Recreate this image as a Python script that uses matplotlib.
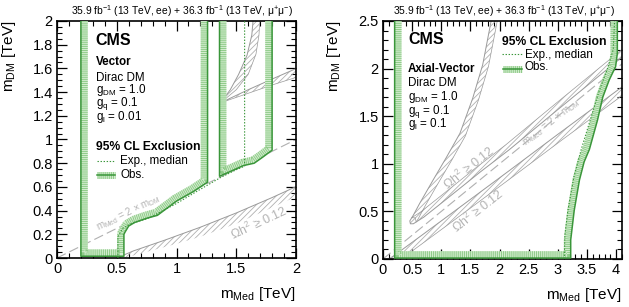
import numpy as np
import matplotlib
matplotlib.use("Agg")
import matplotlib.pyplot as plt
from matplotlib.ticker import MultipleLocator
from matplotlib.patches import Polygon

plt.rcParams['font.family'] = ['Liberation Sans', 'DejaVu Sans']
plt.rcParams['mathtext.fontset'] = 'custom'
plt.rcParams['mathtext.rm'] = 'Liberation Sans'
plt.rcParams['mathtext.it'] = 'Liberation Sans:italic'
plt.rcParams['mathtext.bf'] = 'Liberation Sans:bold'
plt.rcParams['hatch.linewidth'] = 0.6
plt.rcParams['lines.scale_dashes'] = False

# ---------------- data: Vector (left) ----------------
vec_obs1_x = [0.20, 0.20, 0.56, 0.56, 0.57, 0.60, 0.65, 0.75, 0.84, 0.92, 1.00, 1.14, 1.26, 1.26]
vec_obs1_y = [2.10, 0.015, 0.015, 0.20, 0.22, 0.27, 0.30, 0.335, 0.36, 0.42, 0.48, 0.56, 0.64, 2.10]
vec_obs2_x = [1.36, 1.36, 1.45, 1.56, 1.65, 1.72, 1.80, 1.80]
vec_obs2_y = [2.10, 0.69, 0.73, 0.78, 0.80, 0.85, 0.91, 2.10]
vec_exp_x = [0.51, 0.51, 0.55, 0.62, 0.75, 0.85, 1.00, 1.20, 1.37, 1.50, 1.57, 1.57]
vec_exp_y = [0.00, 0.18, 0.25, 0.29, 0.33, 0.38, 0.46, 0.58, 0.68, 0.745, 0.775, 2.10]
vec_relic_line_x = [0.50, 0.64, 0.90, 1.20, 1.50, 1.80, 2.05]
vec_relic_line_y = [0.00, 0.06, 0.15, 0.26, 0.38, 0.51, 0.625]
vec_relic_in_x = [0.56, 1.00, 1.20, 1.50, 2.05]
vec_relic_in_y = [0.00, 0.12, 0.18, 0.29, 0.54]
vec_vup_line_x = [1.37, 1.45, 1.52, 1.59, 1.63, 1.645]
vec_vup_line_y = [1.31, 1.42, 1.55, 1.71, 1.88, 2.05]
vec_vup_in_x = [1.37, 1.50, 1.60, 1.665, 1.69, 1.70]
vec_vup_in_y = [1.31, 1.42, 1.55, 1.72, 1.88, 2.05]
vec_vlo_line_x = [1.37, 1.60, 1.80, 2.05]
vec_vlo_line_y = [1.31, 1.42, 1.51, 1.62]
vec_vlo_in_x = [1.37, 1.60, 1.80, 2.05]
vec_vlo_in_y = [1.31, 1.39, 1.46, 1.54]

# ---------------- data: Axial-vector (right) ----------------
ax_obs_x = [0.20, 0.20, 3.22, 3.22, 3.28, 3.37, 3.45, 3.54, 3.68, 3.77, 3.88, 3.99, 4.02, 4.02]
ax_obs_y = [2.60, 0.01, 0.01, 0.20, 0.51, 0.83, 1.02, 1.15, 1.46, 1.70, 1.88, 2.02, 2.16, 2.60]
ax_exp_x = [3.11, 3.12, 3.17, 3.27, 3.40, 3.55, 3.70, 3.85, 3.95, 3.98]
ax_exp_y = [0.00, 0.25, 0.50, 0.85, 1.15, 1.45, 1.75, 2.00, 2.20, 2.60]
ax_tongue_x = [1.87, 1.83, 1.71, 1.54, 1.32, 1.09, 0.86, 0.63, 0.52, 0.46, 0.47, 0.52, 0.70, 1.09, 1.66, 2.17, 3.00, 3.60, 4.15]
ax_tongue_y = [2.55, 2.42, 2.04, 1.69, 1.32, 1.07, 0.83, 0.585, 0.46, 0.40, 0.37, 0.37, 0.44, 0.63, 0.91, 1.15, 1.57, 1.87, 2.145]
ax_band_x = [4.15, 3.00, 2.17, 1.00, 0.20, 0.10]
ax_band_y = [1.83, 1.31, 0.93, 0.40, 0.04, 0.00]
diag_med = [0.0, 4.3]
diag_dm = [0.0, 2.15]

GREEN_D = '#3a963a'
GREEN_L = '#d6eed2'
GREEN_S = '#8fcb89'
GREY_L = '#9a9a9a'
GREY_H = '#b0b0b0'
GREY_T = '#b4b4b4'
FS = 8.4


def offset(ax, x, y, d):
    pts = ax.transData.transform(np.column_stack([x, y]))
    seg = np.diff(pts, axis=0)
    seg = seg / np.linalg.norm(seg, axis=1)[:, None]
    nrm = np.column_stack([-seg[:, 1], seg[:, 0]])
    vn = np.zeros_like(pts)
    vn[0] = nrm[0]
    vn[-1] = nrm[-1]
    for i in range(1, len(pts) - 1):
        s = nrm[i - 1] + nrm[i]
        ln = np.linalg.norm(s)
        s = nrm[i] if ln < 1e-9 else s / ln
        c = max(np.dot(s, nrm[i]), 0.35)
        vn[i] = s / c
    out = ax.transData.inverted().transform(pts + d * vn)
    return out[:, 0], out[:, 1]


def obs(ax, x, y):
    bx, by = offset(ax, x, y, 3.4)
    ax.plot(bx, by, color=GREEN_L, lw=5.0, solid_joinstyle='miter', zorder=4)
    ax.plot(bx, by, color=GREEN_S, lw=5.0, dashes=(0.7, 0.7), zorder=4.1)
    ax.plot(x, y, color=GREEN_D, lw=1.1, zorder=4.5)


def expd(ax, x, y):
    ax.plot(x, y, color=GREEN_D, lw=0.8, dashes=(1.0, 1.2), zorder=4.6)


def hatched(ax, lx, ly, ix, iy, both=False):
    poly = np.column_stack([np.concatenate([lx, ix[::-1]]), np.concatenate([ly, iy[::-1]])])
    ax.add_patch(Polygon(poly, closed=True, facecolor='none', edgecolor=GREY_H,
                         hatch='//////', lw=0, zorder=2))
    ax.plot(lx, ly, color=GREY_L, lw=0.7, zorder=2.5)
    if both:
        ax.plot(ix, iy, color=GREY_L, lw=0.5, zorder=2.5)


fig = plt.figure(figsize=(6.29, 3.07), dpi=100)
axL = fig.add_axes([57 / 629, 1 - 258 / 307, 239 / 629, 237 / 307])
axR = fig.add_axes([383 / 629, 1 - 259 / 307, 239 / 629, 238 / 307])

axL.set_xlim(0, 2)
axL.set_ylim(0, 2)
axR.set_xlim(0, 4.1)
axR.set_ylim(0, 2.5)

for ax, (mx, nx, my, ny) in [(axL, (0.5, 0.1, 0.2, 0.05)), (axR, (0.5, 0.1, 0.5, 0.1))]:
    ax.xaxis.set_major_locator(MultipleLocator(mx))
    ax.xaxis.set_minor_locator(MultipleLocator(nx))
    ax.yaxis.set_major_locator(MultipleLocator(my))
    ax.yaxis.set_minor_locator(MultipleLocator(ny))
    ax.tick_params(which='both', direction='in', top=True, right=True, labelsize=10.5)
    ax.tick_params(which='major', length=7, width=0.9, pad=3)
    ax.tick_params(which='minor', length=3.5, width=0.8)
    for s in ax.spines.values():
        s.set_linewidth(1.2)
    ax.xaxis.set_major_formatter(matplotlib.ticker.FuncFormatter(lambda v, p: ('%g' % v)))
    ax.yaxis.set_major_formatter(matplotlib.ticker.FuncFormatter(lambda v, p: ('%g' % v)))
    ax.set_xlabel(r'm$_{\mathrm{Med}}$ [TeV]', fontsize=11, loc='right')
    ax.set_ylabel(r'm$_{\mathrm{DM}}$ [TeV]', fontsize=11, loc='top')
    ax.xaxis.set_label_coords(1.0, -0.115)
    ax.plot(diag_med, diag_dm, color=GREY_H, lw=0.8, dashes=(7, 3), zorder=1.5)

axL.yaxis.set_label_coords(-0.165, 1.0)
axR.yaxis.set_label_coords(-0.168, 1.0)

header = r'35.9 fb$^{-1}$ (13 TeV, ee) + 36.3 fb$^{-1}$ (13 TeV, μ$^{+}$μ$^{-}$)'
axL.text(0.525, 1.025, header, transform=axL.transAxes, ha='center', va='baseline', fontsize=7.4)
axR.text(0.505, 1.025, header, transform=axR.transAxes, ha='center', va='baseline', fontsize=7.4)

# ---- left panel ----
hatched(axL, vec_relic_line_x, vec_relic_line_y, vec_relic_in_x, vec_relic_in_y)
hatched(axL, vec_vup_line_x, vec_vup_line_y, vec_vup_in_x, vec_vup_in_y, both=True)
hatched(axL, vec_vlo_line_x, vec_vlo_line_y, vec_vlo_in_x, vec_vlo_in_y, both=True)
expd(axL, vec_exp_x, vec_exp_y)
obs(axL, vec_obs1_x, vec_obs1_y)
obs(axL, vec_obs2_x, vec_obs2_y)

axL.text(0.60, 0.385, r'm$_{\mathrm{Med}}$ = 2 × m$_{\mathrm{DM}}$', color=GREY_T, fontsize=7,
         rotation=26, ha='center', va='center', zorder=3)
axL.text(1.69, 0.295, r'Ωh$^{2}$ ≥ 0.12', color=GREY_T, fontsize=9,
         rotation=25, ha='center', va='center', zorder=3)

xl = 0.162
axL.text(xl, 0.899, 'CMS', transform=axL.transAxes, fontsize=11.5, fontweight='bold', va='baseline')
axL.text(xl, 0.814, 'Vector', transform=axL.transAxes, fontsize=FS, fontweight='bold', va='baseline')
axL.text(xl, 0.745, 'Dirac DM', transform=axL.transAxes, fontsize=FS, va='baseline')
axL.text(xl, 0.696, r'g$_{\mathrm{DM}}$ = 1.0', transform=axL.transAxes, fontsize=FS, va='baseline')
axL.text(xl, 0.641, r'g$_{\mathrm{q}}$ = 0.1', transform=axL.transAxes, fontsize=FS, va='baseline')
axL.text(xl, 0.582, r'g$_{\mathrm{l}}$ = 0.01', transform=axL.transAxes, fontsize=FS, va='baseline')
axL.text(xl, 0.456, '95% CL Exclusion', transform=axL.transAxes, fontsize=8.7, fontweight='bold', va='baseline')
axL.text(0.264, 0.398, 'Exp., median', transform=axL.transAxes, fontsize=FS, va='baseline')
axL.text(0.264, 0.338, 'Obs.', transform=axL.transAxes, fontsize=FS, va='baseline')
axL.plot([0.166, 0.243], [0.41, 0.41], transform=axL.transAxes, color=GREEN_D, lw=0.8, dashes=(1.0, 1.2))
axL.plot([0.166, 0.243], [0.352, 0.352], transform=axL.transAxes, color=GREEN_L, lw=5.0, solid_capstyle='butt')
axL.plot([0.166, 0.243], [0.352, 0.352], transform=axL.transAxes, color=GREEN_S, lw=5.0, dashes=(0.7, 0.7), dash_capstyle='butt')
axL.plot([0.166, 0.243], [0.352, 0.352], transform=axL.transAxes, color=GREEN_D, lw=1.1)

# ---- right panel ----
tx, ty = offset(axR, ax_tongue_x, ax_tongue_y, 6.0)
hatched(axR, np.array(ax_tongue_x), np.array(ax_tongue_y), tx, ty, both=True)
bx, by = offset(axR, ax_band_x, ax_band_y, 7.0)
hatched(axR, np.array(ax_band_x), np.array(ax_band_y), bx, by, both=True)
expd(axR, ax_exp_x, ax_exp_y)
obs(axR, ax_obs_x, ax_obs_y)

axR.text(2.88, 1.434, r'm$_{\mathrm{Med}}$ = 2 × m$_{\mathrm{DM}}$', color=GREY_T, fontsize=7,
         rotation=38, ha='center', va='center', zorder=3)
axR.text(1.47, 0.955, r'Ωh$^{2}$ ≥ 0.12', color=GREY_T, fontsize=9,
         rotation=38, ha='center', va='center', zorder=3)
axR.text(1.63, 0.504, r'Ωh$^{2}$ ≥ 0.12', color=GREY_T, fontsize=9,
         rotation=38, ha='center', va='center', zorder=3)

xr = 0.105
axR.text(xr, 0.903, 'CMS', transform=axR.transAxes, fontsize=11.5, fontweight='bold', va='baseline')
axR.text(xr, 0.786, 'Axial-Vector', transform=axR.transAxes, fontsize=FS, fontweight='bold', va='baseline')
axR.text(xr, 0.725, 'Dirac DM', transform=axR.transAxes, fontsize=FS, va='baseline')
axR.text(xr, 0.670, r'g$_{\mathrm{DM}}$ = 1.0', transform=axR.transAxes, fontsize=FS, va='baseline')
axR.text(xr, 0.608, r'g$_{\mathrm{q}}$ = 0.1', transform=axR.transAxes, fontsize=FS, va='baseline')
axR.text(xr, 0.553, r'g$_{\mathrm{l}}$ = 0.1', transform=axR.transAxes, fontsize=FS, va='baseline')
axR.text(0.497, 0.899, '95% CL Exclusion', transform=axR.transAxes, fontsize=8.7, fontweight='bold', va='baseline')
axR.text(0.594, 0.845, 'Exp., median', transform=axR.transAxes, fontsize=FS, va='baseline')
axR.text(0.594, 0.794, 'Obs.', transform=axR.transAxes, fontsize=FS, va='baseline')
axR.plot([0.497, 0.580], [0.861, 0.861], transform=axR.transAxes, color=GREEN_D, lw=0.8, dashes=(1.0, 1.2))
axR.plot([0.502, 0.580], [0.80, 0.80], transform=axR.transAxes, color=GREEN_L, lw=5.0, solid_capstyle='butt')
axR.plot([0.502, 0.580], [0.80, 0.80], transform=axR.transAxes, color=GREEN_S, lw=5.0, dashes=(0.7, 0.7), dash_capstyle='butt')
axR.plot([0.502, 0.580], [0.80, 0.80], transform=axR.transAxes, color=GREEN_D, lw=1.1)

fig.savefig('out.png', dpi=100)
